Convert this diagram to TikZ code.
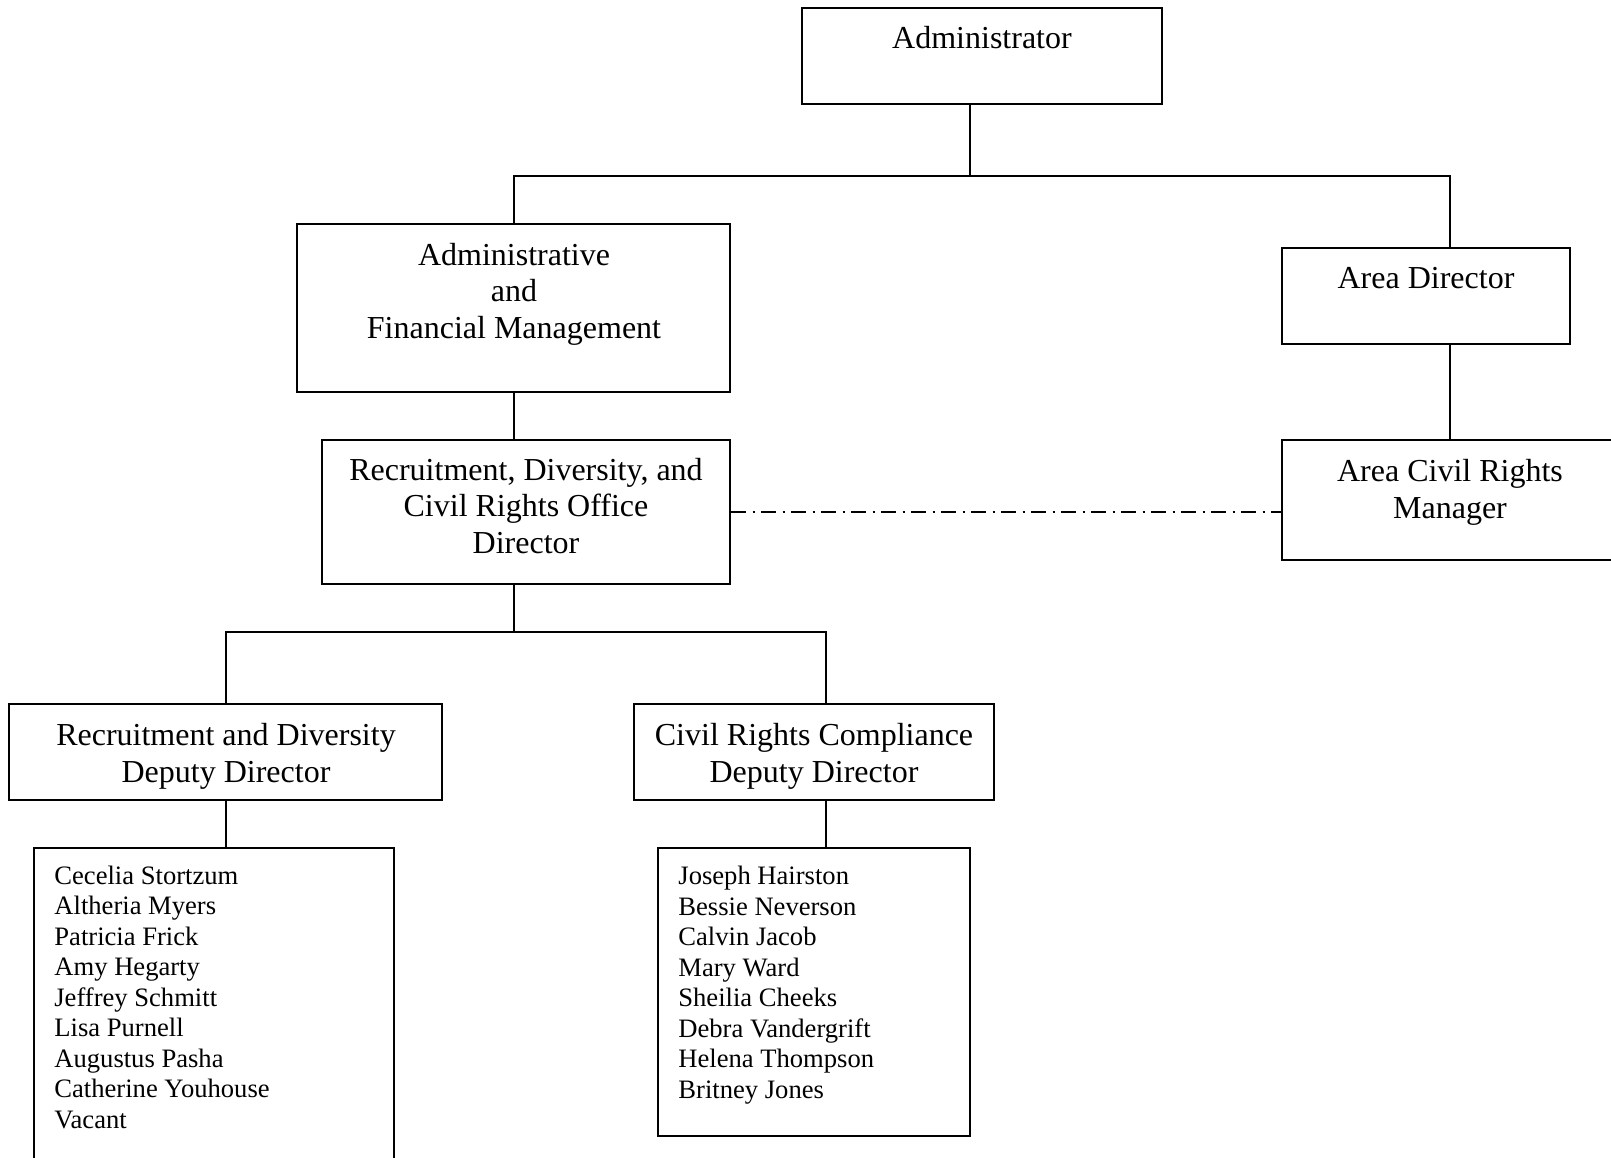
\documentclass[tikz,border=0pt]{standalone}
\usepackage{fontspec}
\setmainfont{Liberation Serif}
\begin{document}
\begin{tikzpicture}[x=0.5pt,y=-0.5pt,
  box/.style={draw, line width=1pt, rectangle, inner sep=0pt},
  conn/.style={line width=0.85pt},
  lbl/.style={font=\fontsize{16}{18.25}\selectfont, align=center, anchor=base, inner sep=0pt},
  names/.style={font=\fontsize{13.3}{15.25}\selectfont, align=left, anchor=base west, inner sep=0pt}]
\clip (0,0) rectangle (1611,1157);
\fill[white] (0,0) rectangle (1611,1157);
% boxes
\node[box, minimum width=180pt, minimum height=48pt] (adm) at (982,56) {};
\node[box, minimum width=216.5pt, minimum height=84pt] (afm) at (513.5,308) {};
\node[box, minimum width=204pt, minimum height=72pt] (rdcr) at (526,512) {};
\node[box, minimum width=144pt, minimum height=48pt] (ad) at (1426,296) {};
\node[box, minimum width=168pt, minimum height=60pt] (acrm) at (1450,500) {};
\node[box, minimum width=216.5pt, minimum height=48pt] (rdd) at (225.5,752) {};
\node[box, minimum width=180pt, minimum height=48pt] (crc) at (814,752) {};
\node[box, minimum width=180pt, minimum height=163.5pt] (ln) at (214,1011.5) {};
\node[box, minimum width=156pt, minimum height=144pt] (rn) at (814,992) {};
% texts (anchor = baseline of the last line)
\node[lbl] (admT) at (982,48) {Administrator};
\node[lbl] (afmT) at (514,338) {Administrative\\and\\Financial Management};
\node[lbl] (rdcrT) at (526,553) {Recruitment, Diversity, and\\Civil Rights Office\\Director};
\node[lbl] (adT) at (1426,288) {Area Director};
\node[lbl] (acrmT) at (1450,518) {Area Civil Rights\\Manager};
\node[lbl] (rddT) at (226,782) {Recruitment and Diversity\\Deputy Director};
\node[lbl] (crcT) at (814,782) {Civil Rights Compliance\\Deputy Director};
\node[names] (lnT) at (54,1128) {Cecelia Stortzum\\Altheria Myers\\Patricia Frick\\Amy Hegarty\\Jeffrey Schmitt\\Lisa Purnell\\Augustus Pasha\\Catherine Youhouse\\Vacant};
\node[names] (rnT) at (678,1098) {Joseph Hairston\\Bessie Neverson\\Calvin Jacob\\Mary Ward\\Sheilia Cheeks\\Debra Vandergrift\\Helena Thompson\\Britney Jones};
% junction coordinates
\coordinate (j1) at (970,176);
\coordinate (tL) at (514,176);
\coordinate (tR) at (1450,176);
\coordinate (m) at (514,632);
\coordinate (bL) at (226,632);
\coordinate (bR) at (826,632);
% connectors
\draw[conn] (adm.south -| j1) -- (j1);
\draw[conn] (afm.north -| tL) -- (tL) -- (tR) -- (ad.north -| tR);
\draw[conn] (ad.south -| tR) -- (acrm.north -| tR);
\draw[conn] (afm.south -| tL) -- (rdcr.north -| tL);
\draw[conn] (rdcr.south -| m) -- (m);
\draw[conn] (rdd.north -| bL) -- (bL) -- (bR) -- (crc.north -| bR);
\draw[conn] (rdd.south -| bL) -- (ln.north -| bL);
\draw[conn] (crc.south -| bR) -- (rn.north -| bR);
\draw[conn, dash pattern=on 7.5pt off 3.25pt on 1pt off 3.25pt] (rdcr.east) -- (rdcr.east -| acrm.west);
\end{tikzpicture}
\end{document}
